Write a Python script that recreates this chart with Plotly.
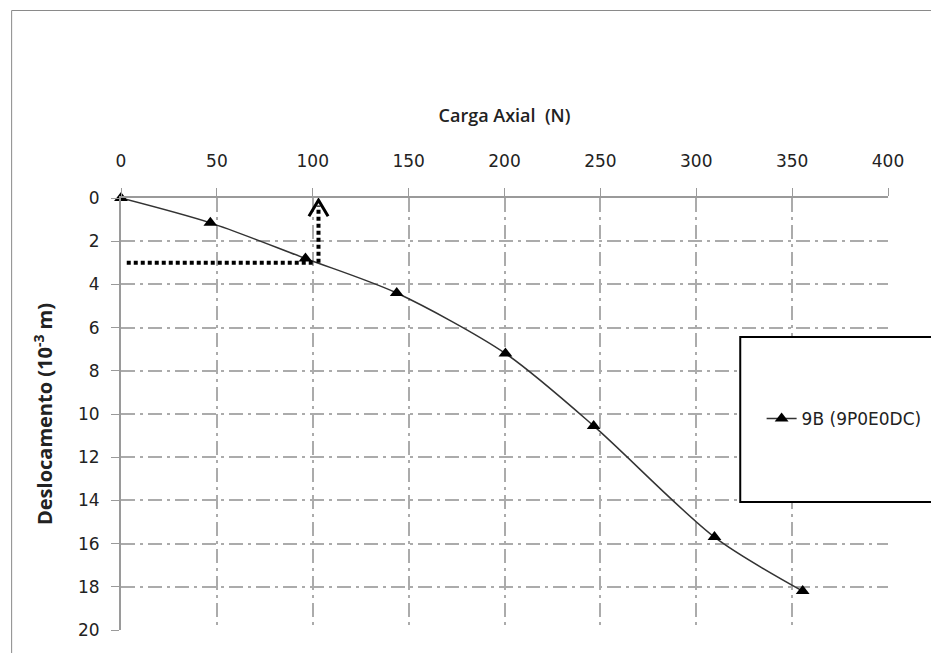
import plotly.graph_objects as go

# Data
carga_axial = [0, 46.6, 96.2, 143.8, 200.5, 246.5, 309.5, 355.5]
deslocamento = [0, 1.15, 2.8, 4.4, 7.2, 10.55, 15.7, 18.2]
series_name = "9B (9P0E0DC)"

x_ticks = [0, 50, 100, 150, 200, 250, 300, 350, 400]
y_ticks = [0, 2, 4, 6, 8, 10, 12, 14, 16, 18, 20]

# Reference marker (dotted guide) values
ref_load = 103
ref_disp = 3

# page body adds an 8px offset; size the figure to fit the window
OFF = 8
W, H = 939 - OFF, 653 - OFF
L, R, T, B = 121 - OFF, 29, 198 - OFF, 23
pw = W - L - R
ph = H - T - B

def px_x(p):
    # p: screenshot pixel
    return (p - OFF - L) / pw

def px_y(p):
    return (H - B - (p - OFF)) / ph

grid_dash = "14px,5px,3px,5px"
tick_font = dict(family="DejaVu Sans", size=17, color="#222")

fig = go.Figure()
fig.add_trace(go.Scatter(
    x=carga_axial, y=deslocamento, name=series_name,
    mode="lines+markers", cliponaxis=False,
    line=dict(color="#333", width=1.5, shape="spline", smoothing=0.8),
    marker=dict(symbol="triangle-up", size=12, color="black"),
    showlegend=True,
))

# dotted guide lines
fig.add_shape(type="line", xref="x", yref="y", x0=3, y0=ref_disp, x1=ref_load - 3, y1=ref_disp,
              line=dict(color="black", width=4, dash="4px,3px"))
fig.add_shape(type="line", xref="x", yref="y", x0=ref_load, y0=ref_disp, x1=ref_load, y1=0.35,
              line=dict(color="black", width=4, dash="4px,3px"))
fig.add_shape(type="path", xref="x", yref="y",
              path=f"M {ref_load-5},0.85 L {ref_load},0.1 L {ref_load+5},0.85",
              line=dict(color="black", width=3))

# outer border
fig.add_shape(type="rect", xref="paper", yref="paper", layer="below",
              x0=px_x(8.5), x1=px_x(960), y0=px_y(670), y1=px_y(10.5),
              line=dict(color="#8a8a8a", width=1), fillcolor="rgba(0,0,0,0)")
# legend box
fig.add_shape(type="rect", xref="paper", yref="paper", layer="above",
              x0=px_x(758), x1=px_x(970), y0=px_y(502), y1=px_y(337),
              line=dict(color="black", width=2), fillcolor="white")

fig.update_layout(
    width=W, height=H,
    margin=dict(l=L, r=R, t=T, b=B),
    paper_bgcolor="white", plot_bgcolor="white",
    showlegend=True,
    legend=dict(x=px_x(780), y=px_y(419), xanchor="left", yanchor="middle",
                bgcolor="rgba(0,0,0,0)", borderwidth=0,
                font=dict(family="DejaVu Sans", size=17, color="#222")),
    xaxis=dict(
        side="top", range=[0, 400], tickvals=x_ticks,
        showline=True, linecolor="#9a9a9a", linewidth=2,
        ticks="outside", ticklen=8, tickcolor="#9a9a9a", tickwidth=1,
        ticklabelstandoff=14,
        showgrid=True, gridcolor="#ababab", gridwidth=2, griddash=grid_dash,
        zeroline=False, tickfont=tick_font,
        title=dict(text="Carga Axial  (N)", standoff=24,
                   font=dict(family="Open Sans", size=18, color="#222", weight=600)),
    ),
    yaxis=dict(
        range=[20, 0], tickvals=y_ticks,
        showline=True, linecolor="#9a9a9a", linewidth=2,
        ticks="outside", ticklen=8, tickcolor="#9a9a9a", tickwidth=1,
        ticklabelstandoff=8,
        showgrid=True, gridcolor="#ababab", gridwidth=2, griddash=grid_dash,
        zeroline=False, tickfont=tick_font,
        title=dict(text="Deslocamento (10<sup>-3</sup> m)", standoff=20,
                   font=dict(family="Open Sans", size=20, color="#222", weight="bold")),
    ),
)

fig.write_html("out.html")
